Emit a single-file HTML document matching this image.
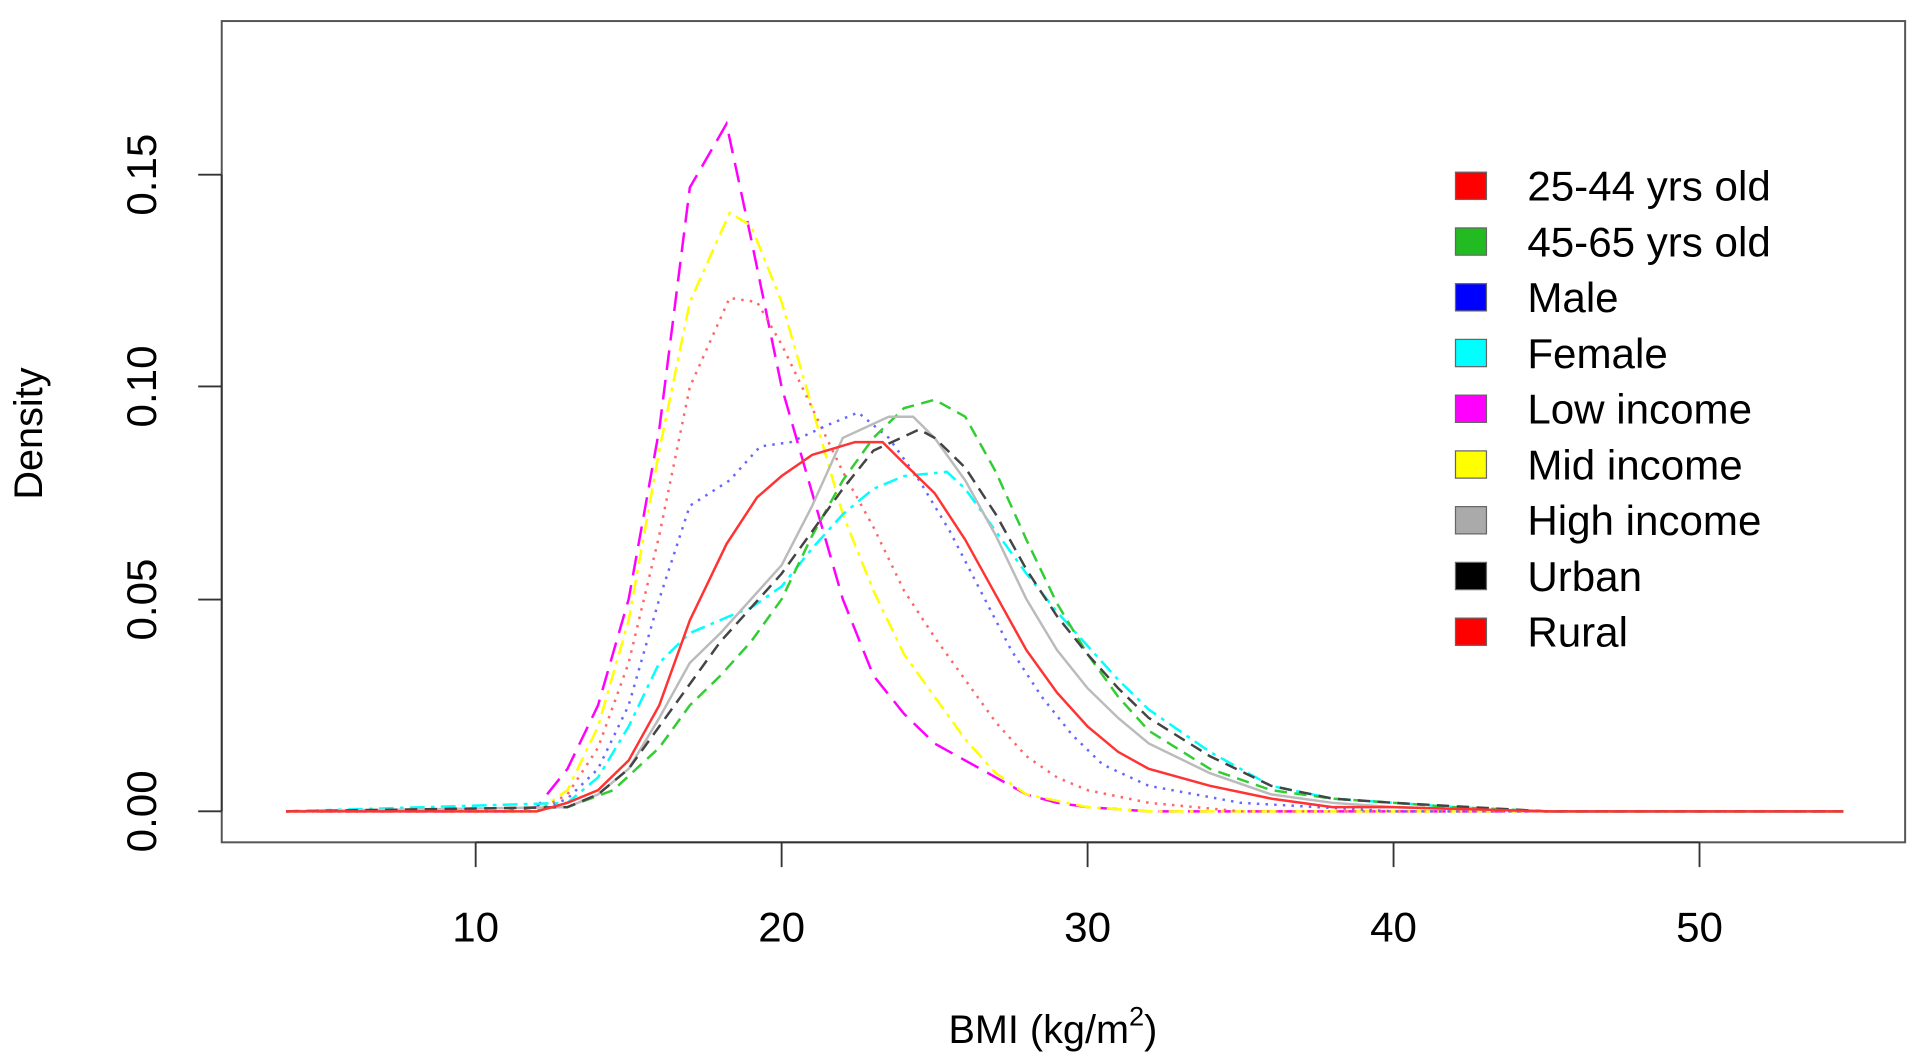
<!DOCTYPE html>
<html><head><meta charset="utf-8"><style>
html,body{margin:0;padding:0;background:#fff;width:1920px;height:1056px;overflow:hidden}
svg text{font-family:"Liberation Sans",Arial,sans-serif;fill:#000}
</style></head><body>
<svg id="s" width="1920" height="1056" viewBox="0 0 1550 852.5" preserveAspectRatio="none" xmlns="http://www.w3.org/2000/svg">
<rect x="179" y="17" width="1359" height="663" fill="none" stroke="#555" stroke-width="1.6"/>
<g stroke="#333" stroke-width="1.5">
<line x1="384" y1="680" x2="1372" y2="680"/>
<line x1="384" y1="680" x2="384" y2="700"/><line x1="631" y1="680" x2="631" y2="700"/>
<line x1="878" y1="680" x2="878" y2="700"/><line x1="1125" y1="680" x2="1125" y2="700"/>
<line x1="1372" y1="680" x2="1372" y2="700"/>
<line x1="179" y1="141" x2="179" y2="655"/>
<line x1="160" y1="655" x2="179" y2="655"/><line x1="160" y1="484" x2="179" y2="484"/>
<line x1="160" y1="312" x2="179" y2="312"/><line x1="160" y1="141" x2="179" y2="141"/>
</g>
<g font-size="34" text-anchor="middle">
<text x="384" y="760">10</text><text x="631" y="760">20</text><text x="878" y="760">30</text><text x="1125" y="760">40</text><text x="1372" y="760">50</text>
<text transform="translate(126,655) rotate(-90)">0.00</text>
<text transform="translate(126,484) rotate(-90)">0.05</text>
<text transform="translate(126,312) rotate(-90)">0.10</text>
<text transform="translate(126,141) rotate(-90)">0.15</text>
<text transform="translate(34,350) rotate(-90)" font-size="32">Density</text>
<text x="850" y="842" font-size="32">BMI (kg/m<tspan font-size="22" dy="-14">2</tspan><tspan dy="14">)</tspan></text>
</g>
<g id="curves" fill="none" stroke-width="2"></g>
<g id="leg" font-size="34"></g>
</svg>
<script>
var X=function(b){return 384+(b-10)*24.7}, Y=function(d){return 655-d*3426};
var S=[
["#ff00ff","16 8",[[3.8,0],[11,0],[12,0.001],[13,0.01],[14,0.025],[15,0.05],[16,0.09],[17,0.147],[18.2,0.162],[19,0.135],[20,0.1],[21,0.075],[22,0.05],[23,0.032],[24,0.023],[25,0.016],[26,0.012],[27,0.008],[28,0.004],[29,0.002],[30,0.001],[32,0],[54.7,0]]],
["#ffff00","12 5 3 5",[[3.8,0],[12,0],[13,0.005],[14,0.02],[15,0.045],[16,0.085],[17,0.12],[18.3,0.141],[19,0.138],[20,0.12],[21,0.095],[22,0.07],[23,0.052],[24,0.037],[25,0.027],[26,0.017],[27,0.009],[28,0.004],[30,0.001],[32,0],[54.7,0]]],
["#ff6666","2 5",[[3.8,0],[12,0],[13,0.004],[14,0.015],[15,0.035],[16,0.065],[17,0.1],[18.3,0.121],[19.2,0.12],[20,0.11],[21,0.095],[22,0.08],[23,0.067],[24,0.052],[25,0.041],[26,0.031],[27,0.021],[28,0.013],[29,0.008],[30,0.005],[32,0.002],[35,0],[54.7,0]]],
["#6666ff","2 5",[[3.8,0],[12,0],[13,0.003],[14,0.01],[15,0.025],[16,0.05],[17,0.072],[18.3,0.078],[19.3,0.086],[20.3,0.087],[21.5,0.091],[22.5,0.094],[23.5,0.088],[24.5,0.078],[25.5,0.066],[26.5,0.052],[27.5,0.038],[28.5,0.027],[29.5,0.018],[30.5,0.011],[32,0.006],[35,0.002],[40,0],[54.7,0]]],
["#00ffff","12 5 3 5",[[3.8,0],[13,0.002],[14,0.008],[15,0.02],[16,0.035],[17,0.042],[18.3,0.046],[19,0.048],[20,0.053],[21,0.062],[22,0.07],[23,0.076],[24,0.079],[25.4,0.08],[26,0.076],[27,0.066],[28,0.056],[29,0.047],[30,0.039],[31,0.031],[32,0.024],[34,0.014],[36,0.006],[38,0.003],[40,0.002],[42,0.001],[45,0],[54.7,0]]],
["#33cc33","10 6",[[3.8,0],[13,0.001],[14.5,0.005],[16,0.015],[17,0.025],[18,0.032],[19,0.04],[20,0.05],[21,0.065],[22,0.078],[23,0.088],[24,0.095],[25,0.097],[26,0.093],[27,0.08],[28,0.064],[29,0.049],[30,0.037],[31,0.027],[32,0.019],[34,0.01],[36,0.005],[38,0.003],[40,0.002],[42,0.001],[45,0],[54.7,0]]],
["#bbbbbb","",[[3.8,0],[13,0.001],[14,0.004],[15,0.01],[16,0.022],[17,0.035],[18,0.042],[19,0.05],[20,0.058],[21,0.072],[22,0.088],[23.5,0.093],[24.3,0.093],[25,0.088],[26,0.078],[27,0.065],[28,0.05],[29,0.038],[30,0.029],[31,0.022],[32,0.016],[34,0.009],[36,0.004],[38,0.002],[40,0.001],[45,0],[54.7,0]]],
["#444444","10 6",[[3.8,0],[13,0.001],[14,0.004],[15,0.01],[16,0.02],[17,0.03],[18,0.04],[19,0.048],[20,0.056],[21,0.066],[22,0.076],[23,0.085],[24.5,0.09],[25,0.088],[26,0.081],[27,0.07],[28,0.057],[29,0.046],[30,0.037],[31,0.029],[32,0.022],[34,0.013],[36,0.006],[38,0.003],[40,0.002],[45,0],[54.7,0]]],
["#ff3333","",[[3.8,0],[12,0],[13,0.002],[14,0.005],[15,0.012],[16,0.025],[17,0.045],[18.2,0.063],[19.2,0.074],[20,0.079],[21,0.084],[22.4,0.087],[23.3,0.087],[24,0.082],[25,0.075],[26,0.064],[27,0.051],[28,0.038],[29,0.028],[30,0.02],[31,0.014],[32,0.01],[34,0.006],[36,0.003],[38,0.001],[40,0.001],[45,0],[54.7,0]]]
];
var g=document.getElementById('curves'),ns="http://www.w3.org/2000/svg";
S.forEach(function(s){var p=document.createElementNS(ns,'polyline');
p.setAttribute('points',s[2].map(function(q){return X(q[0]).toFixed(1)+','+Y(q[1]).toFixed(1)}).join(' '));
p.setAttribute('stroke',s[0]);if(s[1])p.setAttribute('stroke-dasharray',s[1]);g.appendChild(p);});
var L=[["#ff0000","25-44 yrs old"],["#22bb22","45-65 yrs old"],["#0000ff","Male"],["#00ffff","Female"],["#ff00ff","Low income"],["#ffff00","Mid income"],["#aaaaaa","High income"],["#000000","Urban"],["#ff0000","Rural"]];
var lg=document.getElementById('leg');
L.forEach(function(l,i){var y=150+i*45;var r=document.createElementNS(ns,'rect');
r.setAttribute('x',1175);r.setAttribute('y',y-11);r.setAttribute('width',25);r.setAttribute('height',22);
r.setAttribute('fill',l[0]);r.setAttribute('stroke','#666');r.setAttribute('stroke-width','1');lg.appendChild(r);
var t=document.createElementNS(ns,'text');t.setAttribute('x',1233);t.setAttribute('y',y+12);t.textContent=l[1];lg.appendChild(t);});
</script>
</body></html>
